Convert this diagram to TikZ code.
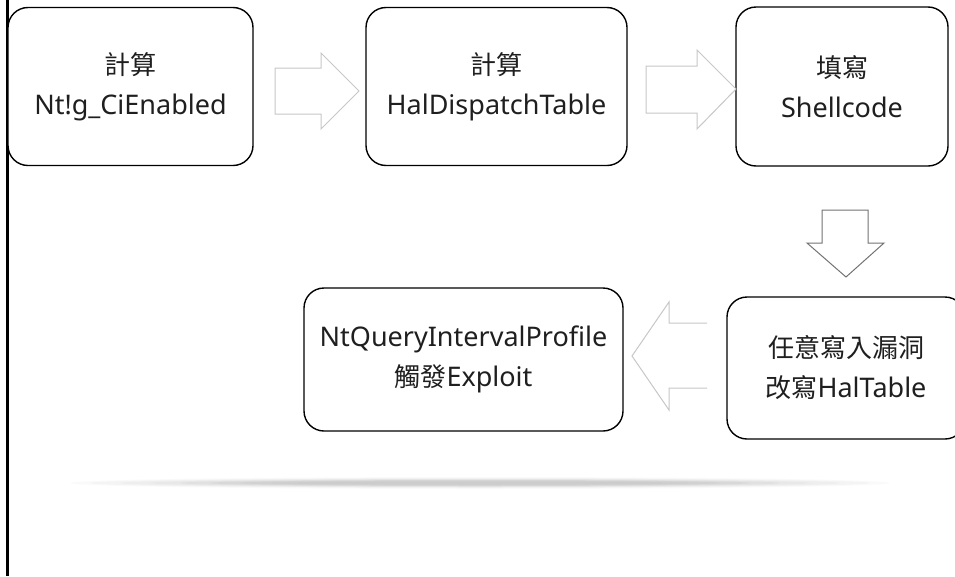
\documentclass[tikz,border=0pt]{standalone}
\usepackage{fontspec}
\setmainfont{Noto Sans}
\newfontfamily\cjk{Noto Sans CJK TC}
\begin{document}
\begin{tikzpicture}[x=1pt,y=-1pt,
  stepbox/.style={draw=black,line width=1.4pt,rounded corners=20pt,fill=white,
    align=center,inner sep=0pt,text=black!88,font=\fontsize{27}{40}\selectfont},
  cjktext/.style={},
  lightarrow/.style={draw=black!22,line width=1pt,line join=miter},
  darkarrow/.style={draw=black!55,line width=1pt,line join=miter}]
\useasboundingbox (0,0) rectangle (955,576);
\clip (0,0) rectangle (955,576);
\fill[white] (0,0) rectangle (955,576);

% soft shadow band under the lower row
\foreach \rx/\ry/\op in {410/6/0.02,390/5/0.025,360/4.5/0.025,330/4/0.025,300/3.5/0.03,270/3/0.03,240/2.5/0.03,210/1.5/0.02}
  \fill[black,opacity=\op] (480,483) ellipse ({\rx} and {\ry});

% left rule
\draw[black,line width=2.5pt] (7.5,0) -- (7.5,576);

% process boxes
\newcommand\zh[1]{{\cjk\fontsize{26}{40}\selectfont #1}}
\node[stepbox,minimum width=245,minimum height=158] (b1) at (130.5,86.5)
  {\zh{計算}\\Nt!g\_CiEnabled};
\node[stepbox,minimum width=261,minimum height=158] (b2) at (496.5,86.5)
  {\zh{計算}\\HalDispatchTable};
\node[stepbox,minimum width=212,minimum height=159] (b3) at (842,86.5)
  {\zh{填寫}\\Shellcode};
\node[stepbox,minimum width=238,minimum height=142] (b4) at (846,368)
  {\zh{任意寫入漏洞}\\\zh{改寫}HalTable};
\node[stepbox,minimum width=319,minimum height=143] (b5) at (463.5,359.5)
  {NtQueryIntervalProfile\\\zh{觸發}Exploit};

% block arrows between the boxes
\draw[lightarrow] (275,68) -- (321,68) -- (321,53) -- (359,91) -- (321,129) -- (321,114) -- (275,114) -- cycle;
\draw[lightarrow] (646,66) -- (697,66) -- (697,50) -- (736,89) -- (697,129) -- (697,113) -- (646,113) -- cycle;
\draw[darkarrow] (822,210) -- (868,210) -- (868,243) -- (884,243) -- (846,277) -- (807,243) -- (822,243) -- cycle;
\draw[lightarrow] (707,323) -- (669,323) -- (669,302) -- (632,356) -- (669,410) -- (669,388) -- (707,388);
\end{tikzpicture}
\end{document}
